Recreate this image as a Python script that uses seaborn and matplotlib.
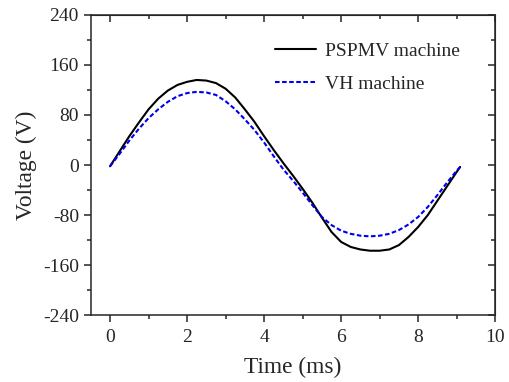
import numpy as np
import pandas as pd
import seaborn as sns
import matplotlib.pyplot as plt
from matplotlib.ticker import MultipleLocator

# time axis (ms)
time_ms = [0.00, 0.25, 0.50, 0.75, 1.00, 1.25, 1.50, 1.75, 2.00, 2.25,
           2.50, 2.75, 3.00, 3.25, 3.50, 3.75, 4.00, 4.25, 4.50, 4.75,
           5.00, 5.25, 5.50, 5.75, 6.00, 6.25, 6.50, 6.75, 7.00, 7.25,
           7.50, 7.75, 8.00, 8.25, 8.50, 8.75, 9.00, 9.09]

# back-EMF voltages (V)
pspmv_v = [-2, 22, 46, 68, 89, 106, 119, 128, 133, 136,
           135, 131, 122, 108, 89, 69, 46, 24, 3, -17,
           -38, -60, -84, -107, -123, -131, -135, -137, -137, -135,
           -128, -115, -99, -80, -57, -34, -11, -3]
vh_v = [-2, 18, 39, 58, 75, 89, 101, 110, 115, 117,
        116, 112, 102, 89, 73, 56, 36, 14, -7, -25,
        -44, -64, -83, -96, -105, -110, -113, -114, -113, -110,
        -104, -95, -83, -67, -48, -28, -9, -3]

labels = ['PSPMV machine', 'VH machine']

df = pd.concat([
    pd.DataFrame({'t': time_ms, 'v': pspmv_v, 'machine': labels[0]}),
    pd.DataFrame({'t': time_ms, 'v': vh_v, 'machine': labels[1]}),
])

sns.set_style('ticks')
plt.rcParams['font.family'] = ['Liberation Serif', 'DejaVu Serif']
plt.rcParams['axes.unicode_minus'] = False

fig = plt.figure(figsize=(5.1, 3.82), dpi=100)
ax = fig.add_axes([0.178, 0.175, 0.793, 0.786])

sns.lineplot(data=df, x='t', y='v', hue='machine', style='machine',
             palette={labels[0]: 'black', labels[1]: '#0000ee'},
             dashes={labels[0]: '', labels[1]: (2.2, 1.2)},
             linewidth=1.5, ax=ax)

ax.set_xlim(-0.5, 10)
ax.set_ylim(-240, 240)
ax.xaxis.set_major_locator(MultipleLocator(2))
ax.xaxis.set_minor_locator(MultipleLocator(1))
ax.yaxis.set_major_locator(MultipleLocator(80))
ax.yaxis.set_minor_locator(MultipleLocator(40))
ax.tick_params(which='both', direction='out', width=1.1, labelsize=14)
ax.tick_params(axis='x', pad=5)
ax.tick_params(which='major', length=5)
ax.tick_params(which='minor', length=3)
for s in ax.spines.values():
    s.set_linewidth(1.1)
    s.set_visible(True)

# mirrored ticks on top and right, pointing inward
top = ax.secondary_xaxis('top')
top.xaxis.set_major_locator(MultipleLocator(2))
top.xaxis.set_minor_locator(MultipleLocator(1))
top.tick_params(which='both', direction='in', width=1.1, labeltop=False)
top.tick_params(which='major', length=5)
top.tick_params(which='minor', length=3)
right = ax.secondary_yaxis('right')
right.yaxis.set_major_locator(MultipleLocator(80))
right.yaxis.set_minor_locator(MultipleLocator(40))
right.tick_params(which='both', direction='in', width=1.1, labelright=False)
right.tick_params(which='major', length=5)
right.tick_params(which='minor', length=3)

ax.set_xlabel('Time (ms)', fontsize=16.8, labelpad=8)
ax.set_ylabel('Voltage (V)', fontsize=16.8, labelpad=4)

leg = ax.legend(loc='upper right', frameon=False, fontsize=14,
                handlelength=2.1, handletextpad=0.5, labelspacing=0.8,
                bbox_to_anchor=(0.957, 0.968))

fig.savefig('out.png', dpi=100)
